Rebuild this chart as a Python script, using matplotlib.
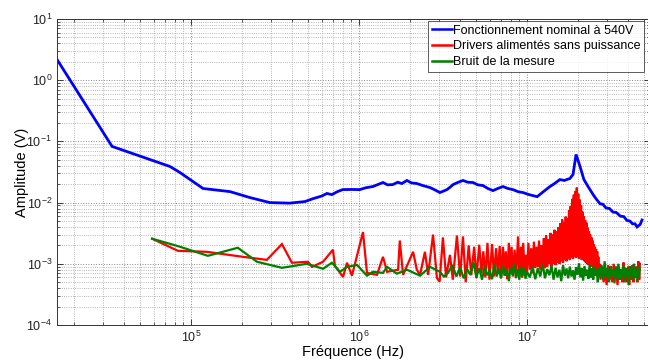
import matplotlib
matplotlib.use("Agg")
import matplotlib.pyplot as plt
from matplotlib.ticker import LogLocator, NullFormatter

plt.rcParams['font.family'] = ['Liberation Sans', 'DejaVu Sans']
plt.rcParams['mathtext.default'] = 'regular'

# ---------------- data (frequency in MHz, amplitude in mV) ----------------
labels = ["Fonctionnement nominal à 540V",
          "Drivers alimentés sans puissance",
          "Bruit de la mesure"]

blue_points = [
    (0.0159, 2210), (0.0339, 82.8), (0.075, 38.9), (0.086, 31.0), (0.118, 17.0),
    (0.171, 15.1), (0.224, 12.1), (0.295, 10.0), (0.388, 9.8), (0.477, 10.4),
    (0.533, 11.6), (0.60, 12.8), (0.645, 14.1), (0.69, 13.5), (0.74, 15.0),
    (0.80, 16.3), (0.90, 16.4), (1.01, 16.3), (1.10, 17.5), (1.21, 18.3),
    (1.30, 19.8), (1.39, 21.3), (1.48, 19.5), (1.59, 19.7), (1.70, 21.5),
    (1.80, 20.5), (1.93, 23.0), (2.05, 21.0), (2.21, 20.5), (2.40, 19.0),
    (2.65, 17.6), (2.85, 16.0), (3.03, 14.6), (3.20, 15.5), (3.34, 16.3),
    (3.50, 18.0), (3.63, 19.7), (3.90, 21.5), (4.16, 23.0), (4.45, 21.5),
    (4.77, 21.3), (5.10, 19.5), (5.47, 19.0), (5.85, 17.0), (6.28, 15.7),
    (6.70, 17.0), (7.20, 18.3), (7.70, 17.0), (8.26, 16.3), (8.90, 15.0),
    (9.47, 14.6), (10.3, 13.5), (11.5, 12.5), (12.3, 14.5), (13.7, 18.3),
    (14.6, 20.5), (15.7, 23.8), (16.7, 23.0), (17.4, 24.0), (18.0, 24.7),
    (18.8, 28.8), (19.6, 61.2), (20.7, 38.9), (21.8, 24.0), (23.1, 18.3),
    (25.0, 13.0), (26.0, 11.2), (27.2, 9.6), (28.3, 9.4), (29.5, 8.2),
    (31.0, 8.0), (32.5, 7.0), (34.0, 6.9), (36.0, 6.0), (37.7, 5.9),
    (39.4, 5.1), (41.0, 5.0), (42.5, 4.5), (44.0, 4.5), (45.2, 4.0),
    (46.2, 4.2), (47.2, 4.4), (48.4, 5.2),
]

red_points = [
    (0.0587, 2.57), (0.0837, 1.63), (0.124, 1.57), (0.204, 1.30), (0.283, 1.16),
    (0.348, 2.10), (0.399, 1.04), (0.497, 1.08), (0.525, 0.89), (0.611, 1.08),
    (0.700, 1.70), (0.719, 0.93), (0.804, 0.61), (0.849, 1.04), (0.908, 0.64),
    (1.057, 3.30), (1.116, 0.71), (1.28, 0.66), (1.39, 1.30), (1.47, 0.74),
    (1.71, 0.80), (1.75, 2.40), (1.83, 0.66), (2.10, 1.57), (2.21, 0.80),
    (2.31, 0.66), (2.47, 1.57), (2.58, 0.66), (2.76, 3.00), (2.91, 0.59),
    (3.02, 0.51), (3.16, 2.70), (3.30, 0.60),
    (3.48, 1.4), (3.62, 0.55), (3.83, 2.9), (4.0, 0.62), (4.16, 2.8),
    (4.32, 0.5), (4.5, 2.0), (4.66, 0.65), (4.85, 1.9), (5.0, 0.58),
    (5.2, 2.05), (5.36, 0.7), (5.5, 1.6), (5.65, 0.6), (5.82, 2.2),
    (5.98, 0.55), (6.2, 2.1), (6.36, 0.62), (6.55, 1.8), (6.7, 0.68),
    (6.88, 1.95), (7.02, 0.58), (7.2, 1.9), (7.34, 0.64), (7.48, 1.6),
    (7.62, 0.56), (7.8, 2.2), (7.95, 0.7), (8.1, 1.9), (8.25, 0.62),
    (8.45, 1.7), (8.6, 0.58), (8.85, 2.8), (9.0, 0.66), (9.2, 1.9),
    (9.35, 0.6), (9.5, 2.2), (9.68, 0.7), (9.85, 1.4),
    (10.0, 0.75), (10.2, 2.2), (10.4, 0.8), (10.6, 1.8), (10.8, 0.7),
    (11.0, 2.3), (11.2, 0.85), (11.4, 1.9), (11.6, 0.9), (11.8, 2.4),
    (12.0, 0.8), (12.2, 2.0), (12.4, 0.95), (12.6, 2.6), (12.8, 0.85),
    (13.0, 2.9), (13.2, 0.9), (13.4, 2.5), (13.6, 1.0), (13.8, 3.2),
    (14.0, 0.9), (14.2, 3.0), (14.4, 1.0), (14.6, 3.6), (14.8, 0.95),
    (15.0, 3.4), (15.2, 1.05), (15.4, 4.0), (15.6, 1.0), (15.8, 4.6),
    (16.0, 1.1), (16.2, 5.3), (16.4, 1.05), (16.6, 4.8), (16.8, 1.15),
    (17.0, 5.9), (17.2, 1.1), (17.4, 5.6), (17.6, 1.2), (17.8, 7.5),
    (18.0, 1.15), (18.2, 8.8), (18.4, 1.25), (18.6, 11.5), (18.8, 1.2),
    (19.0, 13.5), (19.2, 1.3), (19.4, 15.5), (19.6, 1.25), (19.8, 17.6),
    (20.0, 1.3), (20.2, 14.0), (20.4, 1.2), (20.6, 11.2), (20.8, 1.25),
    (21.0, 9.0), (21.2, 1.15), (21.4, 7.1), (21.6, 1.2), (21.8, 6.0),
    (22.0, 1.1), (22.2, 5.2), (22.4, 1.05), (22.6, 4.7), (22.8, 1.0),
    (23.0, 3.9), (23.2, 0.95), (23.4, 3.4), (23.6, 1.0), (23.8, 3.0),
    (24.0, 0.9), (24.2, 2.7), (24.4, 0.95), (24.6, 2.4), (24.8, 0.85),
    (25.0, 2.1), (25.2, 0.9), (25.4, 1.9), (25.6, 0.8), (25.8, 1.75),
    (26.0, 0.85), (26.2, 1.6), (26.4, 0.75), (26.6, 1.3), (26.8, 0.7),
    (27.0, 1.0), (27.4, 0.55), (28.0, 0.9), (28.6, 0.5), (29.2, 0.85),
    (29.8, 0.45), (30.4, 0.95), (31.0, 0.55), (31.6, 0.8), (32.2, 0.5),
    (32.8, 1.0), (33.4, 0.6), (34.0, 0.85), (34.6, 0.45), (35.2, 0.9),
    (35.8, 0.55), (36.4, 0.8), (37.0, 0.5), (37.6, 1.05), (38.2, 0.6),
    (38.8, 0.85), (39.4, 0.5), (40.0, 0.9), (40.6, 0.45), (41.2, 0.8),
    (41.8, 0.55), (42.4, 0.95), (43.0, 0.5), (43.6, 0.85), (44.2, 0.6),
    (44.8, 0.9), (45.4, 0.5), (46.0, 1.1), (46.6, 0.55), (47.0, 1.0),
]

green_points = [
    (0.0587, 2.57), (0.086, 1.90), (0.126, 1.35), (0.190, 1.83), (0.247, 1.08),
    (0.348, 0.86), (0.490, 1.00), (0.611, 0.83), (0.690, 1.04), (0.771, 0.74),
    (0.849, 0.89), (0.973, 0.96), (1.116, 0.64), (1.21, 0.74), (1.39, 0.71),
    (1.47, 0.89), (1.68, 0.69), (1.93, 0.80), (2.31, 0.64), (2.65, 0.89),
    (3.03, 0.74), (3.2, 0.62),
    (3.4, 0.72), (3.6, 0.95), (3.8, 0.62), (4.0, 0.88), (4.2, 0.58),
    (4.4, 0.82), (4.6, 0.66), (4.8, 1.05), (5.0, 0.6), (5.2, 0.85),
    (5.4, 0.55), (5.6, 0.9), (5.8, 0.65), (6.0, 0.78), (6.2, 0.56),
    (6.4, 0.98), (6.6, 0.62), (6.8, 0.84), (7.0, 0.58), (7.2, 0.92),
    (7.4, 0.64), (7.6, 0.8), (7.8, 0.52), (8.0, 0.88), (8.2, 0.66),
    (8.4, 1.0), (8.6, 0.6), (8.8, 0.82), (9.0, 0.55), (9.2, 0.9),
    (9.4, 0.63), (9.6, 0.86), (9.8, 0.57),
    (10.0, 0.75), (10.4, 0.6), (10.8, 0.9), (11.2, 0.56), (11.6, 0.85),
    (12.0, 0.62), (12.4, 1.0), (12.8, 0.58), (13.2, 0.82), (13.6, 0.65),
    (14.0, 0.93), (14.4, 0.55), (14.8, 0.86), (15.2, 0.6), (15.6, 0.8),
    (16.0, 0.52), (16.4, 0.95), (16.8, 0.64), (17.2, 0.84), (17.6, 0.58),
    (18.0, 0.9), (18.4, 0.62), (18.8, 0.78), (19.2, 0.55), (19.6, 0.88),
    (20.0, 0.66), (20.4, 1.02), (20.8, 0.6), (21.2, 0.85), (21.6, 0.53),
    (22.0, 0.92), (22.4, 0.63), (22.8, 0.8), (23.2, 0.57), (23.6, 0.97),
    (24.0, 0.6), (24.4, 0.84), (24.8, 0.55), (25.2, 0.9), (25.6, 0.64),
    (26.0, 0.8), (26.4, 0.5), (26.8, 0.88),
    (27.2, 0.62), (27.8, 0.95), (28.4, 0.55), (29.0, 1.1), (29.6, 0.6),
    (30.2, 0.85), (30.8, 0.5), (31.4, 0.92), (32.0, 0.65), (32.6, 0.8),
    (33.2, 0.48), (33.8, 0.9), (34.4, 0.6), (35.0, 1.0), (35.6, 0.56),
    (36.2, 0.82), (36.8, 0.62), (37.4, 0.95), (38.0, 0.5), (38.6, 0.86),
    (39.2, 0.6), (39.8, 0.78), (40.4, 0.45), (41.0, 0.92), (41.6, 0.63),
    (42.2, 0.85), (42.8, 0.55), (43.4, 1.0), (44.0, 0.6), (44.6, 0.8),
    (45.2, 0.52), (45.8, 0.9), (46.4, 0.62), (47.0, 0.85),
]

x_limits_hz = (1.594e4, 5.4e7)
y_limits_v = (1e-4, 1e1)


def to_si(points):
    f = [p[0] * 1e6 for p in points]
    v = [p[1] * 1e-3 for p in points]
    return f, v


# ---------------- figure ----------------
fig = plt.figure(figsize=(6.48, 3.6), dpi=100)
ax = fig.add_axes([57 / 648, 1 - 325 / 360, 593 / 648, 306 / 360])

colors = ["#0000ff", "#ff0000", "#008000"]
widths = [2.0, 1.6, 1.6]
for pts, lab, c, lw in zip([blue_points, red_points, green_points], labels, colors, widths):
    f, v = to_si(pts)
    ax.plot(f, v, color=c, lw=lw, label=lab, solid_joinstyle='miter')

ax.set_xscale('log')
ax.set_yscale('log')
ax.set_xlim(*x_limits_hz)
ax.set_ylim(*y_limits_v)

ax.xaxis.set_major_locator(LogLocator(base=10, numticks=20))
ax.xaxis.set_minor_locator(LogLocator(base=10, subs=range(2, 10), numticks=50))
ax.yaxis.set_major_locator(LogLocator(base=10, numticks=20))
ax.yaxis.set_minor_locator(LogLocator(base=10, subs=range(2, 10), numticks=50))
ax.xaxis.set_minor_formatter(NullFormatter())
ax.yaxis.set_minor_formatter(NullFormatter())

ax.grid(True, which='major', linestyle=':', color='#8a8a8a', linewidth=0.7)
ax.grid(True, which='minor', linestyle=':', color='#a0a0a0', linewidth=0.6)
ax.set_axisbelow(True)

ax.tick_params(which='both', direction='in', top=True, right=True,
               labelsize=9, colors='#222222')
ax.tick_params(which='major', length=4, width=0.6)
ax.tick_params(which='minor', length=2, width=0.5)
for s in ax.spines.values():
    s.set_color('#333333')
    s.set_linewidth(0.7)

ax.set_xlabel('Fréquence (Hz)', fontsize=10.5)
ax.set_ylabel('Amplitude (V)', fontsize=10.5)
ax.xaxis.set_label_coords(0.5, -0.065)
ax.yaxis.set_label_coords(-0.048, 0.5)

leg = fig.legend(loc='upper left', bbox_to_anchor=(428 / 648, 1 - 21 / 360),
                 fontsize=9, frameon=True, fancybox=False, handlelength=1.6,
                 handletextpad=0.1, borderpad=0.3, labelspacing=0.3,
                 borderaxespad=0)
leg.get_frame().set_edgecolor('#333333')
leg.get_frame().set_linewidth(0.7)
for line in leg.get_lines():
    line.set_linewidth(1.8)

fig.savefig('out.png', dpi=100)
